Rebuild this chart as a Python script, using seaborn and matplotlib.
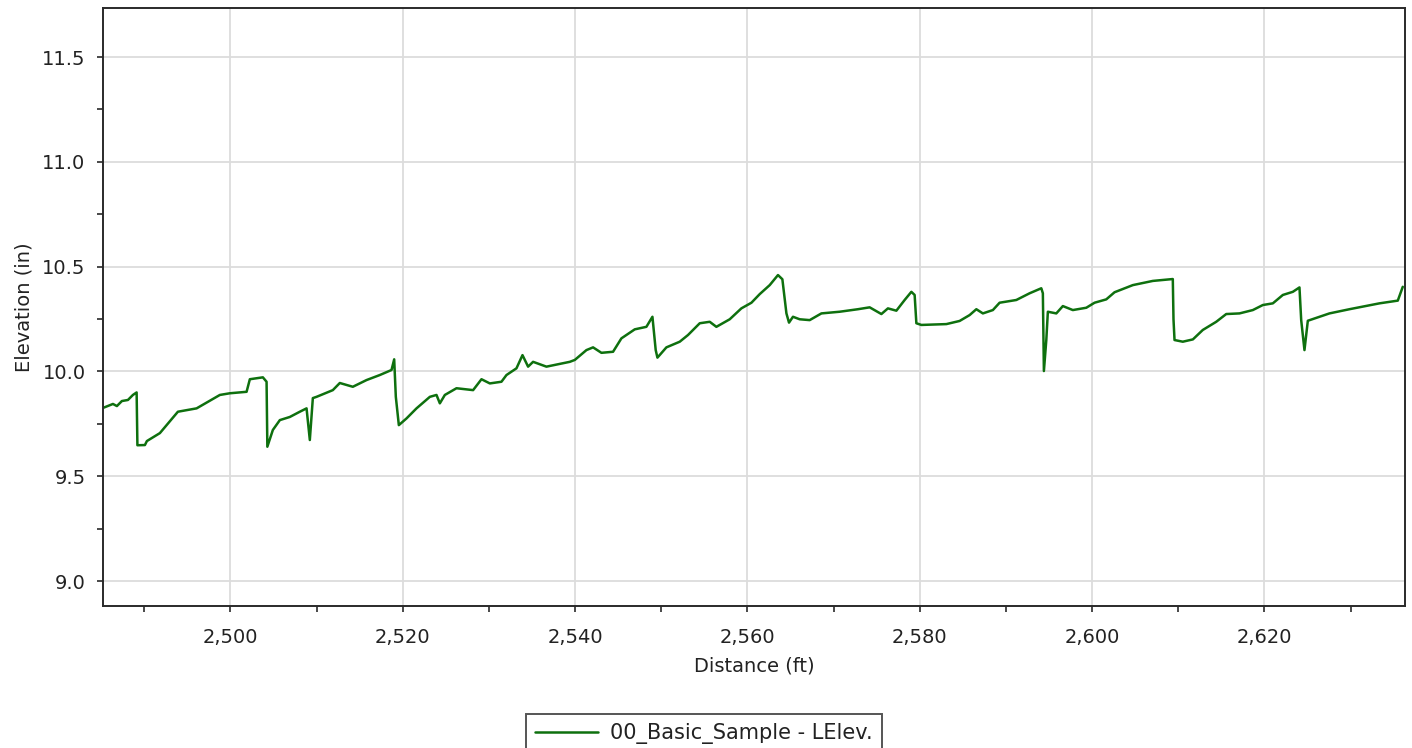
import numpy as np
import pandas as pd
import matplotlib
matplotlib.use("Agg")
import matplotlib.pyplot as plt
import seaborn as sns
from matplotlib.ticker import MultipleLocator, StrMethodFormatter

# left rail elevation profile
distance_ft = [
    2485.20, 2486.36, 2486.82, 2487.40, 2488.10, 2488.68, 2489.11, 2489.20, 2490.07, 2490.30,
    2491.81, 2493.90, 2496.07, 2498.77, 2499.93, 2501.87, 2502.25, 2503.76, 2504.19, 2504.28,
    2504.92, 2505.73, 2506.89, 2508.05, 2508.83, 2509.21, 2509.56, 2509.99, 2511.88, 2512.69,
    2514.20, 2515.79, 2517.33, 2518.69, 2519.00, 2519.19, 2519.54, 2520.43, 2521.59, 2523.14,
    2523.91, 2524.30, 2524.88, 2526.23, 2528.16, 2529.13, 2530.10, 2531.45, 2532.03, 2533.19,
    2533.89, 2534.54, 2535.12, 2536.67, 2539.38, 2539.96, 2541.31, 2542.08, 2543.05, 2544.40,
    2545.37, 2546.92, 2548.27, 2548.97, 2549.35, 2549.55, 2550.59, 2552.14, 2553.10, 2554.46,
    2555.62, 2556.39, 2557.94, 2559.29, 2560.46, 2561.42, 2562.58, 2563.54, 2564.05, 2564.52,
    2564.82, 2565.28, 2566.06, 2567.22, 2568.58, 2570.70, 2572.82, 2574.18, 2575.54, 2576.30,
    2577.28, 2578.24, 2579.02, 2579.40, 2579.60, 2580.18, 2583.08, 2584.62, 2585.78, 2586.56,
    2587.32, 2588.48, 2589.26, 2591.20, 2592.74, 2594.10, 2594.28, 2594.40, 2594.68, 2594.86,
    2595.84, 2596.60, 2597.76, 2599.32, 2600.28, 2601.64, 2602.60, 2604.72, 2607.04, 2609.36,
    2609.44, 2609.56, 2610.52, 2611.69, 2612.84, 2614.40, 2615.56, 2617.10, 2618.65, 2619.81,
    2620.97, 2622.13, 2623.29, 2624.06, 2624.26, 2624.64, 2625.03, 2627.54, 2629.86, 2633.34,
    2635.47, 2636.05,
]
elevation_in = [
    9.826, 9.845, 9.835, 9.859, 9.864, 9.888, 9.900, 9.648, 9.649, 9.668,
    9.706, 9.808, 9.824, 9.888, 9.896, 9.903, 9.963, 9.972, 9.951, 9.641,
    9.721, 9.768, 9.783, 9.808, 9.824, 9.673, 9.873, 9.879, 9.911, 9.945,
    9.927, 9.959, 9.983, 10.007, 10.058, 9.879, 9.744, 9.776, 9.824, 9.879,
    9.888, 9.848, 9.888, 9.920, 9.911, 9.963, 9.943, 9.951, 9.983, 10.015,
    10.078, 10.023, 10.046, 10.023, 10.046, 10.055, 10.102, 10.115, 10.089, 10.094,
    10.158, 10.201, 10.213, 10.261, 10.102, 10.066, 10.115, 10.142, 10.174, 10.230,
    10.237, 10.213, 10.249, 10.301, 10.328, 10.369, 10.412, 10.460, 10.440, 10.277,
    10.233, 10.261, 10.249, 10.245, 10.277, 10.285, 10.297, 10.306, 10.274, 10.301,
    10.290, 10.341, 10.380, 10.365, 10.230, 10.222, 10.226, 10.241, 10.269, 10.297,
    10.277, 10.293, 10.328, 10.341, 10.373, 10.397, 10.373, 10.002, 10.150, 10.285,
    10.277, 10.312, 10.293, 10.304, 10.328, 10.344, 10.378, 10.412, 10.432, 10.441,
    10.249, 10.150, 10.142, 10.153, 10.198, 10.237, 10.274, 10.277, 10.293, 10.317,
    10.325, 10.365, 10.380, 10.401, 10.245, 10.102, 10.242, 10.277, 10.297, 10.325,
    10.338, 10.404,
]
series_name = "00_Basic_Sample - LElev."

x_range = (2485.2, 2636.3)
y_range = (8.881, 11.734)

df = pd.DataFrame({"Distance": distance_ft, "Elevation": elevation_in})

sns.set_style("white")
plt.rcParams["font.family"] = ["DejaVu Sans"]

fig = plt.figure(figsize=(14.12, 7.48), dpi=100)
ax = fig.add_axes([0.0729, 0.1898, 0.9221, 0.7995])

sns.lineplot(data=df, x="Distance", y="Elevation", ax=ax, color="#0e700e",
             linewidth=1.8, sort=False, estimator=None, label=series_name)

ax.set_xlim(*x_range)
ax.set_ylim(*y_range)

ax.xaxis.set_major_locator(MultipleLocator(20))
ax.xaxis.set_minor_locator(MultipleLocator(10))
ax.yaxis.set_major_locator(MultipleLocator(0.5))
ax.yaxis.set_minor_locator(MultipleLocator(0.25))
ax.xaxis.set_major_formatter(StrMethodFormatter("{x:,.0f}"))
ax.yaxis.set_major_formatter(StrMethodFormatter("{x:.1f}"))

ax.grid(True, which="major", color="#dcdcdc", linewidth=1.3)
ax.set_axisbelow(True)
for sp in ax.spines.values():
    sp.set_color("#2a2a2a")
    sp.set_linewidth(1.4)
    sp.set_visible(True)

ax.tick_params(which="both", direction="out", length=4.5, width=1.2, color="#2a2a2a",
               left=True, bottom=True, labelsize=14, labelcolor="#222222")
ax.tick_params(axis="x", pad=11)
ax.tick_params(axis="y", pad=8)

ax.set_xlabel("Distance (ft)", fontsize=14, color="#222222", labelpad=7)
ax.set_ylabel("Elevation (in)", fontsize=14, color="#222222", labelpad=6)

# legend sits under the plot, partly cut off by the figure edge
ax.get_legend().remove()
leg = fig.legend(*ax.get_legend_handles_labels(), loc="upper center",
                 bbox_to_anchor=(0.4986, 0.0455), borderaxespad=0, frameon=True,
                 fancybox=False, edgecolor="#2a2a2a", fontsize=15, handlelength=3.0,
                 handletextpad=0.6, borderpad=0.45, labelcolor="#222222")
leg.get_frame().set_linewidth(1.4)

fig.savefig("out.png", dpi=100)
